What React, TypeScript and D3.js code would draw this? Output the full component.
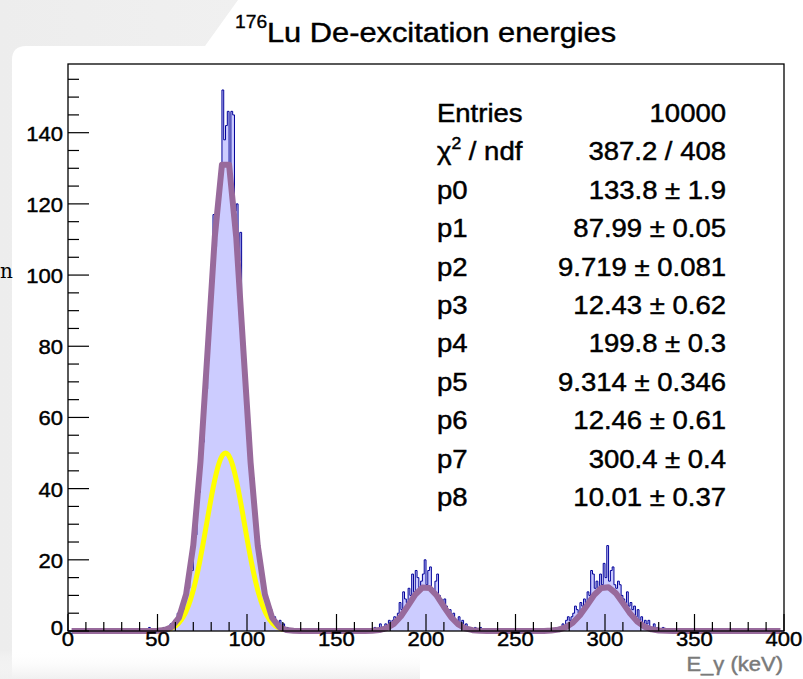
import React, { useEffect } from "react";
import * as d3 from "d3";

// ---------- data ----------
const X_MAJOR_TICKS = [0, 50, 100, 150, 200, 250, 300, 350, 400];
const Y_MAJOR_TICKS = [0, 20, 40, 60, 80, 100, 120, 140];

// histogram counts (1 keV bins), non-empty regions only
const PEAK1_START = 44;
const PEAK1_COUNTS = [
  0, 1, 0, 0, 0, 0, 0, 0, 0, 1, 0, 1, 0, 2, 1, 3, 2, 5, 3, 6, 5, 9, 11, 12, 18, 17,
  26, 27, 36, 39, 50, 53, 64, 68, 82, 85, 98, 117, 108, 118, 121, 127, 152, 138, 142,
  146, 129, 146, 145, 118, 120, 104, 112, 86, 80, 72, 61, 56, 46, 43, 36, 28, 25, 20,
  14, 13, 10, 8, 5, 6, 3, 4, 2, 1, 3, 1, 2, 0, 1, 0,
];
const PEAK2_START = 170;
const PEAK2_COUNTS = [
  0, 1, 0, 0, 2, 1, 0, 2, 1, 3, 2, 3, 4, 3, 5, 8, 6, 11, 9, 8, 12, 10, 16, 11, 17, 15,
  12, 14, 16, 20, 13, 17, 18, 12, 11, 14, 16, 10, 9, 8, 9, 7, 6, 6, 4, 5, 3, 2, 4, 2,
  3, 1, 2, 1, 1, 0, 0, 1, 0, 0, 1, 0,
];
const PEAK3_START = 272;
const PEAK3_COUNTS = [
  0, 1, 0, 1, 2, 1, 3, 4, 3, 4, 5, 7, 6, 5, 8, 7, 9, 8, 11, 10, 17, 16, 12, 14, 11, 16,
  13, 19, 15, 24, 14, 17, 18, 13, 12, 14, 13, 10, 9, 8, 11, 7, 8, 6, 7, 4, 6, 3, 4, 2,
  3, 2, 3, 1, 1, 2, 0, 1, 0, 0, 1, 0,
];

// fit parameters (from stats box): 3 gaussians [amp, mean, sigma]
const FIT_PARAMS = [133.8, 87.99, 9.719, 12.43, 199.8, 9.314, 12.46, 300.4, 10.01];
// single-gaussian component drawn in yellow [amp, mean, sigma], range 50..120
const YELLOW_PARAMS = [50, 88, 10.5];
const YELLOW_RANGE = [50, 120];

const STAT_LABELS = ["Entries", "CHI2", "p0", "p1", "p2", "p3", "p4", "p5", "p6", "p7", "p8"];
const STAT_VALUES = [
  "10000",
  "387.2 / 408",
  "133.8 ± 1.9",
  "87.99 ± 0.05",
  "9.719 ± 0.081",
  "12.43 ± 0.62",
  "199.8 ± 0.3",
  "9.314 ± 0.346",
  "12.46 ± 0.61",
  "300.4 ± 0.4",
  "10.01 ± 0.37",
];

// ---------- layout ----------
const W = 803;
const H = 679;
const L = 68, R = 784, T = 64, B = 631;
const FONT = "'Liberation Sans', Arial, Helvetica, sans-serif";
const SX = 1.1;
const TXT_STROKE = 0.45;

const x = d3.scaleLinear().domain([0, 400]).range([L, R]);
const y = d3.scaleLinear().domain([0, 159.3]).range([B, T]);

function gaus(v: number, a: number, m: number, s: number) {
  return a * Math.exp(-((v - m) * (v - m)) / (2 * s * s));
}

function buildBins(): number[] {
  const bins = new Array(400).fill(0);
  const put = (start: number, arr: number[]) => arr.forEach((c, i) => (bins[start + i] = c));
  put(PEAK1_START, PEAK1_COUNTS);
  put(PEAK2_START, PEAK2_COUNTS);
  put(PEAK3_START, PEAK3_COUNTS);
  return bins;
}

function SText(props: {
  x: number; y: number; size: number; anchor?: string; fill?: string; sx?: number; children: any; family?: string;
}) {
  const { x: tx, y: ty, size, anchor = "start", fill = "#000", sx = SX, children, family = FONT } = props;
  return (
    <g transform={`translate(${tx},${ty}) scale(${sx},1)`}>
      <text
        textAnchor={anchor as any}
        fontSize={size}
        fontFamily={family}
        fill={fill}
        stroke={fill}
        strokeWidth={TXT_STROKE}
      >
        {children}
      </text>
    </g>
  );
}

export default function App() {
  useEffect(() => {
    document.body.style.margin = "0";
  }, []);

  const bins = buildBins();
  // step path for histogram
  let outline = `M${x(0)},${y(0)}`;
  bins.forEach((c, i) => {
    outline += `L${x(i)},${y(c)}L${x(i + 1)},${y(c)}`;
  });
  outline += `L${x(400)},${y(0)}`;
  const fillPath = outline + "Z";

  const fitFn = (v: number) =>
    gaus(v, FIT_PARAMS[0], FIT_PARAMS[1], FIT_PARAMS[2]) +
    gaus(v, FIT_PARAMS[3], FIT_PARAMS[4], FIT_PARAMS[5]) +
    gaus(v, FIT_PARAMS[6], FIT_PARAMS[7], FIT_PARAMS[8]);
  const fitXs = d3.range(100).map((i) => 2 + 4 * i);
  const line = d3.line<number>().x((v) => x(v)).y((v) => y(fitFn(v)));
  const fitPath = line(fitXs) || "";

  const yelXs = d3.range(0, 141).map((i) => YELLOW_RANGE[0] + (i * (YELLOW_RANGE[1] - YELLOW_RANGE[0])) / 140);
  const yelLine = d3
    .line<number>()
    .x((v) => x(v))
    .y((v) => y(gaus(v, YELLOW_PARAMS[0], YELLOW_PARAMS[1], YELLOW_PARAMS[2])))
    .curve(d3.curveMonotoneX);
  const yelPath = yelLine(yelXs) || "";

  const xMinor = d3.range(0, 401, 10).filter((v) => v % 50 !== 0);
  const yMinor = d3.range(0, 160, 5).filter((v) => v % 20 !== 0);

  const rowY0 = 122;
  const rowDy = 38.4;

  return (
    <svg width={W} height={H} style={{ position: "absolute", left: 0, top: 0, display: "block" }}>
      <defs>
        <linearGradient id="bgTop" x1="0" y1="0" x2="1" y2="0">
          <stop offset="0" stopColor="#ededed" />
          <stop offset="1" stopColor="#f7f7f7" />
        </linearGradient>
        <linearGradient id="bgBot" x1="0" y1="0" x2="0" y2="1">
          <stop offset="0" stopColor="#ffffff" stopOpacity="0" />
          <stop offset="1" stopColor="#f0f0f0" stopOpacity="1" />
        </linearGradient>
        <clipPath id="plotClip">
          <rect x={L} y={T} width={R - L} height={B - T + 6} />
        </clipPath>
      </defs>
      <rect x={0} y={0} width={W} height={H} fill="url(#bgTop)" />
      <path d={`M12,${H} L12,60 Q12,46 26,46 L205,46 L238,0 L${W},0 L${W},${H} Z`} fill="#ffffff" />
      <rect x={0} y={650} width={420} height={29} fill="url(#bgBot)" />

      <text x={0} y={278} fontSize={20} fontFamily="'DejaVu Serif', serif" fill="#000">n</text>

      {/* title */}
      <g transform={`translate(235,28) scale(${SX},1)`}>
        <text fontSize={17.5} fontFamily={FONT} stroke="#000" strokeWidth={0.35}>176</text>
      </g>
      <SText x={267} y={41.5} size={28}>Lu De-excitation energies</SText>

      {/* histogram */}
      <g clipPath="url(#plotClip)">
        <path d={fillPath} fill="#ccccff" stroke="none" />
        <path d={outline} fill="none" stroke="#000099" strokeWidth={1} />
        <path d={yelPath} fill="none" stroke="#ffff00" strokeWidth={5} strokeLinecap="round" />
        <path d={fitPath} fill="none" stroke="#986a9c" strokeWidth={6} strokeLinejoin="round" />
      </g>

      {/* frame */}
      <rect x={L} y={T} width={R - L} height={B - T} fill="none" stroke="#000" strokeWidth={1.3} />

      {/* x axis ticks */}
      {X_MAJOR_TICKS.map((v) => (
        <line key={"xm" + v} x1={x(v)} x2={x(v)} y1={B} y2={B - 17} stroke="#000" strokeWidth={1.2} />
      ))}
      {xMinor.map((v) => (
        <line key={"xn" + v} x1={x(v)} x2={x(v)} y1={B} y2={B - 9} stroke="#000" strokeWidth={1.2} />
      ))}
      {X_MAJOR_TICKS.map((v) => (
        <SText key={"xl" + v} x={x(v)} y={646} size={21} anchor="middle" sx={1.05}>
          {String(v)}
        </SText>
      ))}

      {/* y axis ticks */}
      {Y_MAJOR_TICKS.map((v) => (
        <line key={"ym" + v} x1={L} x2={L + 21} y1={y(v)} y2={y(v)} stroke="#000" strokeWidth={1.2} />
      ))}
      {yMinor.map((v) => (
        <line key={"yn" + v} x1={L} x2={L + 11} y1={y(v)} y2={y(v)} stroke="#000" strokeWidth={1.2} />
      ))}
      {Y_MAJOR_TICKS.map((v) => (
        <SText key={"yl" + v} x={63} y={y(v) + (v === 0 ? 4 : 8)} size={21} anchor="end" sx={1.05}>
          {String(v)}
        </SText>
      ))}

      {/* x title */}
      <SText x={783} y={671} size={20} anchor="end" fill="#7a7a7a">
        E_γ (keV)
      </SText>

      {/* stats */}
      {STAT_LABELS.map((lab, i) => (
        <g key={"sl" + i}>
          {lab === "CHI2" ? (
            <g transform={`translate(437,${rowY0 + i * rowDy}) scale(${SX},1)`}>
              <text fontSize={25} fontFamily={FONT} stroke="#000" strokeWidth={TXT_STROKE}>
                χ<tspan fontSize={16} dy={-11}>2</tspan>
                <tspan dy={11}> / ndf</tspan>
              </text>
            </g>
          ) : (
            <SText x={437} y={rowY0 + i * rowDy} size={25}>{lab}</SText>
          )}
          <SText x={726} y={rowY0 + i * rowDy} size={25} anchor="end">
            {STAT_VALUES[i]}
          </SText>
        </g>
      ))}
    </svg>
  );
}
